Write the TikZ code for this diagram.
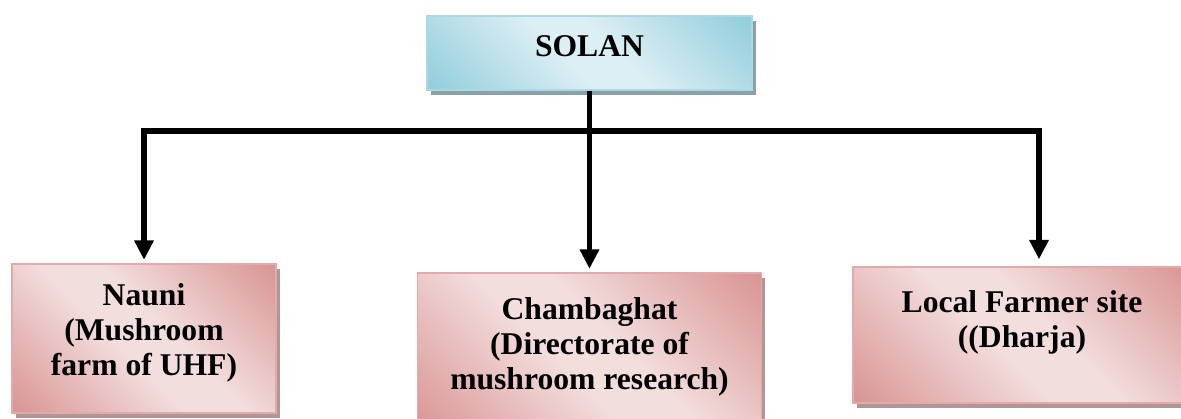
\documentclass[tikz,border=0pt]{standalone}
\usepackage{fontspec}
\setmainfont{Liberation Serif}
\usetikzlibrary{arrows.meta,shadows}
\definecolor{skylight}{RGB}{220,239,244}
\definecolor{skydark}{RGB}{146,205,220}
\definecolor{skyedge}{RGB}{170,216,228}
\definecolor{skyshadow}{RGB}{140,160,168}
\definecolor{roselight}{RGB}{243,222,222}
\definecolor{rosedark}{RGB}{217,149,148}
\definecolor{roseedge}{RGB}{226,170,170}
\definecolor{roseshadow}{RGB}{176,150,151}
\pgfdeclarehorizontalshading{skyband}{100bp}{color(0bp)=(skydark); color(15bp)=(skydark); color(45bp)=(skylight); color(55bp)=(skylight); color(85bp)=(skydark); color(100bp)=(skydark)}
\pgfdeclarehorizontalshading{roseband}{100bp}{color(0bp)=(rosedark); color(15bp)=(rosedark); color(45bp)=(roselight); color(55bp)=(roselight); color(85bp)=(rosedark); color(100bp)=(rosedark)}
\newcommand{\textsink}[1]{\rule[-#1]{0pt}{0pt}}

\begin{document}
\begin{tikzpicture}[node distance=6cm]
    % Define styles
    \tikzstyle{box} = [rectangle, line width=0.8pt, shading angle=45, align=center, font=\fontsize{18pt}{20pt}\selectfont\bfseries]
    \tikzstyle{hub} = [box, draw=skyedge, shading=skyband, drop shadow={shadow xshift=2pt, shadow yshift=-2.8pt, fill=skyshadow, opacity=1}, minimum width=6.5cm, minimum height=1.48cm]
    \tikzstyle{site} = [box, draw=roseedge, shading=roseband, drop shadow={shadow xshift=2.2pt, shadow yshift=-2.8pt, fill=roseshadow, opacity=1}]
    \tikzstyle{link} = [line width=3.4pt, black]
    \tikzstyle{arrow} = [link, -{Triangle[width=10.5pt,length=11pt]}, shorten >=2pt]

    \useasboundingbox (0,0) rectangle (23.62,8.38);
    \clip (0,0) rectangle (23.62,8.38);

    % Nodes
    \node (solan) [hub] at (11.79,7.32) {SOLAN\textsink{8pt}};
    \node (chamba) [site, below of=solan, minimum width=6.88cm, minimum height=3.2cm] {Chambaghat\\(Directorate of\\mushroom research)\textsink{11pt}};
    \node (nauni) [site, left of=chamba, xshift=-2.91cm, yshift=0.29cm, minimum width=5.28cm, minimum height=2.98cm] {Nauni\\(Mushroom\\farm of UHF)\textsink{10pt}};
    \node (local) [site, right of=chamba, xshift=2.65cm, yshift=0.36cm, minimum width=6.76cm, minimum height=2.72cm] {Local Farmer site\\((Dharja)\textsink{18pt}};

    % Arrows
    \coordinate (fork) at ([yshift=-0.8cm]solan.south);
    \draw [link] (solan) -- (fork);
    \draw [arrow] (fork) -| (nauni);
    \draw [arrow] (fork) -- (chamba);
    \draw [arrow, shorten >=4pt] (fork) -| ([xshift=0.34cm]local.north);
\end{tikzpicture}
\end{document}
